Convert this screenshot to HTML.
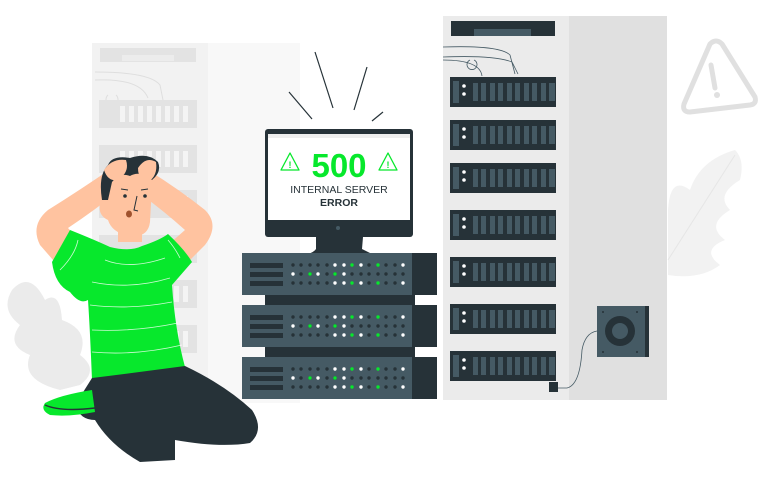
<!DOCTYPE html>
<html><head><meta charset="utf-8"><style>
html,body{margin:0;padding:0;background:#fff;width:768px;height:479px;overflow:hidden}
svg{display:block}
</style></head><body>
<svg width="768" height="479" viewBox="0 0 768 479" xmlns="http://www.w3.org/2000/svg" font-family="Liberation Sans, sans-serif">
<!-- left background rack -->
<rect x="92" y="43" width="116" height="360" fill="#f2f2f2"/>
<rect x="208" y="43" width="92" height="360" fill="#f8f8f8"/>
<rect x="100" y="48" width="96" height="14" fill="#e3e3e3"/>
<rect x="122" y="55" width="52" height="6" fill="#ececec"/>
<path d="M95 72 Q150 72 160 85 L163 100 M95 80 Q140 78 148 98 M108 95 a6 6 0 1 0 8 0" fill="none" stroke="#dedede"/>
<g fill="#e3e3e3">
<rect x="99" y="100" width="98" height="28"/><rect x="99" y="145" width="98" height="28"/>
<rect x="99" y="190" width="98" height="28"/><rect x="99" y="235" width="98" height="28"/>
<rect x="99" y="280" width="98" height="28"/><rect x="99" y="325" width="98" height="28"/>
</g>
<g fill="#f4f4f4">
<rect x="120" y="106" width="5" height="16"/><rect x="129" y="106" width="5" height="16"/><rect x="138" y="106" width="5" height="16"/><rect x="147" y="106" width="5" height="16"/><rect x="156" y="106" width="5" height="16"/><rect x="165" y="106" width="5" height="16"/><rect x="174" y="106" width="5" height="16"/><rect x="183" y="106" width="5" height="16"/>
<rect x="120" y="151" width="5" height="16"/><rect x="129" y="151" width="5" height="16"/><rect x="138" y="151" width="5" height="16"/><rect x="147" y="151" width="5" height="16"/><rect x="156" y="151" width="5" height="16"/><rect x="165" y="151" width="5" height="16"/><rect x="174" y="151" width="5" height="16"/><rect x="183" y="151" width="5" height="16"/>
<rect x="165" y="196" width="5" height="16"/><rect x="174" y="196" width="5" height="16"/><rect x="183" y="196" width="5" height="16"/>
<rect x="165" y="241" width="5" height="16"/><rect x="174" y="241" width="5" height="16"/><rect x="183" y="241" width="5" height="16"/>
<rect x="165" y="286" width="5" height="16"/><rect x="174" y="286" width="5" height="16"/><rect x="183" y="286" width="5" height="16"/>
<rect x="165" y="331" width="5" height="16"/><rect x="174" y="331" width="5" height="16"/><rect x="183" y="331" width="5" height="16"/>
</g>
<!-- left plant -->
<path d="M12 290 Q30 270 45 300 Q60 290 62 320 Q90 330 80 355 Q100 370 80 385 L60 390 Q20 380 30 355 Q5 345 20 325 Q0 310 12 290Z" fill="#ebebeb"/>
<!-- right plant -->
<path d="M735 150 Q700 160 690 190 Q670 175 668 210 L668 275 Q700 280 720 265 Q700 250 725 240 Q705 225 730 210 Q715 195 740 180 Q745 160 735 150Z" fill="#f2f2f2"/>
<path d="M668 260 L735 155" stroke="#e6e6e6" fill="none"/>
<!-- warning triangle -->
<path d="M710 44 Q716 38 722 44 L755 97 Q757 104 750 105 L690 112 Q682 112 684 104 Z" fill="none" stroke="#e0e0e0" stroke-width="5" stroke-linejoin="round"/>
<path d="M711 65 L715 88" stroke="#e0e0e0" stroke-width="5" stroke-linecap="round"/>
<circle cx="717" cy="95" r="3" fill="#e0e0e0"/>
<!-- right rack -->
<rect x="443" y="16" width="126" height="384" fill="#ebebeb"/>
<rect x="569" y="16" width="98" height="384" fill="#e0e0e0"/>
<rect x="451" y="21" width="104" height="15" fill="#263238"/>
<rect x="474" y="29" width="57" height="7" fill="#455a64"/>
<path d="M443 47 Q500 45 510 55 L515 74 M443 57 Q495 55 512 62 L518 74 M443 60 Q480 60 482 76 M470 60 a5 5 0 1 0 4 0" fill="none" stroke="#455a64" stroke-width="0.8"/>
<g id="u">
<rect x="450" y="77" width="106" height="30" fill="#263238"/>
<rect x="453" y="81" width="6" height="22" fill="#455a64"/>
<circle cx="464" cy="86" r="1.8" fill="#fff"/><circle cx="464" cy="94" r="1.8" fill="#fff"/>
<g fill="#455a64">
<rect x="473" y="83" width="5" height="18"/><rect x="481" y="83" width="5" height="18"/><rect x="490" y="83" width="5" height="18"/><rect x="498" y="83" width="5" height="18"/><rect x="507" y="83" width="5" height="18"/><rect x="515" y="83" width="5" height="18"/><rect x="524" y="83" width="5" height="18"/><rect x="532" y="83" width="5" height="18"/><rect x="541" y="83" width="5" height="18"/><rect x="549" y="83" width="6" height="18"/>
</g></g>
<use href="#u" y="43"/><use href="#u" y="86"/><use href="#u" y="133"/><use href="#u" y="180"/><use href="#u" y="227"/><use href="#u" y="274"/>
<rect x="597" y="306" width="52" height="51" fill="#455a64"/>
<rect x="645" y="306" width="4" height="51" fill="#263238"/>
<circle cx="620" cy="331" r="15" fill="#263238"/><circle cx="620" cy="331" r="8" fill="#455a64"/>
<g fill="#263238"><circle cx="603" cy="312" r="1"/><circle cx="637" cy="312" r="1"/><circle cx="603" cy="352" r="1"/><circle cx="637" cy="352" r="1"/></g>
<path d="M597 331 Q585 333 582 350 Q580 385 567 388 L558 388" fill="none" stroke="#455a64" stroke-width="0.8"/>
<rect x="549" y="382" width="9" height="10" fill="#263238"/>
<!-- rays -->
<g stroke="#263238" stroke-width="1.2" fill="none">
<path d="M315 52 L333 108"/><path d="M367 67 L354 110"/><path d="M289 92 L312 119"/><path d="M383 112 L372 121"/>
</g>
<!-- monitor -->
<path d="M316 237 L363 237 L362 249 Q368 252 372 254 L308 254 Q314 252 316 249Z" fill="#263238"/>
<rect x="265" y="129" width="148" height="108" rx="3" fill="#263238"/>
<rect x="268" y="134" width="142" height="86" fill="#fff"/>
<rect x="268" y="134" width="142" height="4" fill="#eeeeee"/>
<circle cx="338" cy="228" r="2" fill="#455a64"/>
<path d="M290 153 L299 170 L281 170Z" fill="none" stroke="#07e82c" stroke-width="1.3" stroke-linejoin="round"/>
<text x="290" y="168" font-size="9" font-weight="bold" text-anchor="middle" fill="#07e82c">!</text>
<path d="M388 153 L397 170 L379 170Z" fill="none" stroke="#07e82c" stroke-width="1.3" stroke-linejoin="round"/>
<text x="388" y="168" font-size="9" font-weight="bold" text-anchor="middle" fill="#07e82c">!</text>
<text x="339" y="177" font-size="33" font-weight="bold" text-anchor="middle" fill="#07e82c">500</text>
<text x="339" y="193" font-size="10.5" text-anchor="middle" fill="#263238">INTERNAL SERVER</text>
<text x="339" y="206" font-size="10.5" font-weight="bold" text-anchor="middle" fill="#263238">ERROR</text>
<!-- server stack -->
<rect x="265" y="290" width="150" height="70" fill="#263238"/>
<g id="s">
<rect x="242" y="253" width="172" height="42" fill="#455a64"/>
<rect x="412" y="253" width="25" height="42" fill="#263238"/>
<rect x="250" y="263" width="33" height="5" fill="#263238"/>
<rect x="250" y="272" width="33" height="5" fill="#263238"/>
<rect x="250" y="281" width="33" height="5" fill="#263238"/>
<g fill="#263238">
<circle cx="293" cy="265" r="1.7"/><circle cx="301" cy="265" r="1.7"/><circle cx="310" cy="265" r="1.7"/><circle cx="318" cy="265" r="1.7"/><circle cx="327" cy="265" r="1.7"/><circle cx="369" cy="265" r="1.7"/><circle cx="386" cy="265" r="1.7"/><circle cx="395" cy="265" r="1.7"/>
<circle cx="301" cy="274" r="1.7"/><circle cx="310" cy="274" r="1.7"/><circle cx="327" cy="274" r="1.7"/><circle cx="335" cy="274" r="1.7"/><circle cx="352" cy="274" r="1.7"/><circle cx="361" cy="274" r="1.7"/><circle cx="369" cy="274" r="1.7"/><circle cx="378" cy="274" r="1.7"/><circle cx="386" cy="274" r="1.7"/><circle cx="395" cy="274" r="1.7"/><circle cx="403" cy="274" r="1.7"/>
<circle cx="293" cy="283" r="1.7"/><circle cx="301" cy="283" r="1.7"/><circle cx="310" cy="283" r="1.7"/><circle cx="318" cy="283" r="1.7"/><circle cx="327" cy="283" r="1.7"/><circle cx="369" cy="283" r="1.7"/><circle cx="386" cy="283" r="1.7"/><circle cx="395" cy="283" r="1.7"/>
</g>
<g fill="#fff">
<circle cx="335" cy="265" r="1.7"/><circle cx="344" cy="265" r="1.7"/><circle cx="361" cy="265" r="1.7"/><circle cx="403" cy="265" r="1.7"/>
<circle cx="293" cy="274" r="1.7"/><circle cx="318" cy="274" r="1.7"/><circle cx="344" cy="274" r="1.7"/>
<circle cx="335" cy="283" r="1.7"/><circle cx="344" cy="283" r="1.7"/><circle cx="361" cy="283" r="1.7"/><circle cx="403" cy="283" r="1.7"/>
</g>
<g fill="#07e82c">
<circle cx="352" cy="265" r="1.7"/><circle cx="378" cy="265" r="1.7"/>
<circle cx="310" cy="274" r="1.7"/><circle cx="335" cy="274" r="1.7"/>
<circle cx="352" cy="283" r="1.7"/><circle cx="378" cy="283" r="1.7"/>
</g></g>
<use href="#s" y="52"/><use href="#s" y="104"/>
<!-- person -->
<!-- arms -->
<path d="M112 168 Q80 190 48 210 Q30 225 40 245 L60 268 L88 250 L68 228 Q95 210 120 190Z" fill="#ffc3a0"/>
<path d="M148 170 Q180 190 205 210 Q220 225 205 245 L188 262 L168 245 L185 230 Q165 212 142 195Z" fill="#ffc3a0"/>
<!-- neck/face -->
<rect x="118" y="220" width="24" height="22" fill="#ffc3a0"/>
<path d="M104 178 Q110 162 130 162 Q152 165 152 185 L150 222 Q148 238 130 236 Q112 233 108 220 Q98 215 100 205 Q102 198 106 200Z" fill="#ffc3a0"/>
<!-- hair -->
<path d="M102 200 Q98 175 108 165 Q112 155 130 158 Q148 152 158 162 Q162 172 152 180 Q140 170 130 176 Q120 172 112 182 L108 200Z" fill="#263238"/>
<!-- hands -->
<path d="M104 170 Q112 158 126 160 Q130 172 118 180 Q108 182 104 170Z" fill="#ffc3a0"/>
<path d="M138 168 Q146 156 156 162 Q158 176 148 182 Q138 180 138 168Z" fill="#ffc3a0"/>
<g fill="#263238"><circle cx="125" cy="196" r="1.8"/><circle cx="145" cy="196" r="1.8"/></g>
<path d="M121 189 L128 190 M141 190 L148 189 M137 196 L134 210 L138 211" stroke="#263238" fill="none" stroke-width="1"/>
<ellipse cx="129" cy="214" rx="3" ry="3.5" fill="#a0522d"/>
<!-- shirt -->
<path d="M70 230 Q95 240 110 247 Q130 252 142 246 Q160 240 168 234 Q185 250 192 262 L172 285 Q175 330 185 367 Q140 378 92 380 Q90 330 88 300 Q80 305 70 292 Q55 285 52 262Z" fill="#07e82c"/>
<g stroke="#fff" stroke-width="0.8" fill="none" opacity="0.8">
<path d="M105 260 Q130 270 165 258"/><path d="M92 282 Q130 290 170 278"/><path d="M90 305 Q130 310 172 302"/><path d="M92 330 Q135 332 178 323"/><path d="M92 352 Q135 356 182 345"/>
<path d="M60 270 Q75 255 78 240"/><path d="M180 258 Q175 248 168 240"/>
</g>
<!-- pants -->
<path d="M92 378 Q140 372 185 366 Q225 385 252 410 Q265 430 250 443 Q220 448 175 440 L175 460 L140 462 Q110 445 95 420 Q80 420 75 405 Z" fill="#263238"/>
<!-- shoe -->
<path d="M45 403 Q60 395 92 390 L95 412 Q70 417 50 415 Q40 410 45 403Z" fill="#07e82c"/>
<path d="M45 405 Q60 412 95 408" stroke="#263238" fill="none" stroke-width="1.5"/>
</svg>
</body></html>
